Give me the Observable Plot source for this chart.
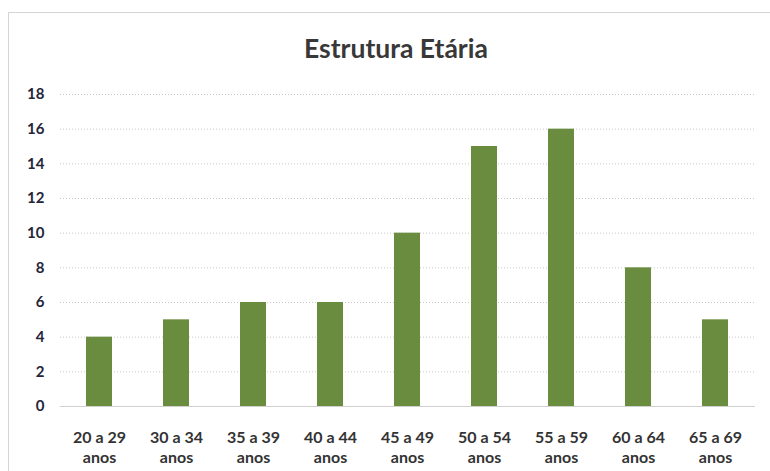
<!DOCTYPE html>
<html>
<head>
<meta charset="utf-8">
<script src="https://cdn.jsdelivr.net/npm/d3@7"></script>
<script src="https://cdn.jsdelivr.net/npm/@observablehq/plot@0.6"></script>
<style>
  html, body { margin: 0; padding: 0; background: #fff; }
  #wrap { position: relative; width: 770px; height: 471px; overflow: hidden; }
  #frame { position: absolute; left: 8px; top: 12px; width: 770px; height: 470px;
           border-top: 1px solid #d4d4d4; border-left: 1px solid #d4d4d4; box-sizing: border-box; }
  #chart { position: absolute; left: 0; top: 0; }
</style>
</head>
<body>
<div id="wrap"><div id="frame"></div><div id="chart"></div></div>
<script>
const categories = ["20 a 29", "30 a 34", "35 a 39", "40 a 44", "45 a 49", "50 a 54", "55 a 59", "60 a 64", "65 a 69"];
const values = [4, 5, 6, 6, 10, 15, 16, 8, 5];
const yTicks = [0, 2, 4, 6, 8, 10, 12, 14, 16, 18];
const title = "Estrutura Etária";

const data = categories.map((c, i) => ({category: c, value: values[i]}));
const font = "Lato, 'Noto Sans', sans-serif";

const plot = Plot.plot({
  width: 770,
  height: 471,
  marginTop: 94,
  marginBottom: 65,
  marginLeft: 60,
  marginRight: 15,
  style: {fontFamily: font, background: "transparent", overflow: "visible"},
  x: {domain: categories, paddingInner: 0.66, paddingOuter: 0.33, label: null},
  y: {domain: [0, 18], label: null},
  marks: [
    Plot.gridY(yTicks.filter(d => d > 0), {stroke: "#c8c8c8", strokeOpacity: 1, strokeDasharray: "1,2"}),
    Plot.ruleY([0], {stroke: "#d0d0d0", strokeWidth: 1}),
    Plot.barY(data, {x: "category", y: "value", fill: "#6a8c3e"}),
    Plot.axisY({ticks: yTicks, tickSize: 0, tickPadding: 16, fontSize: 15, fontWeight: "bold", fill: "#26263a", label: null}),
    Plot.axisX({tickSize: 0, tickPadding: 22, fontSize: 16, fontWeight: "bold", fill: "#333", lineHeight: 1.27,
      tickFormat: d => d + "\nanos", label: null}),
    Plot.text([title], {frameAnchor: "top", lineAnchor: "middle", dy: -45, dx: -12, fontSize: 26.5, fontWeight: "bold", fill: "#383838", text: d => d})
  ]
});
document.getElementById("chart").appendChild(plot);
</script>
</body>
</html>
